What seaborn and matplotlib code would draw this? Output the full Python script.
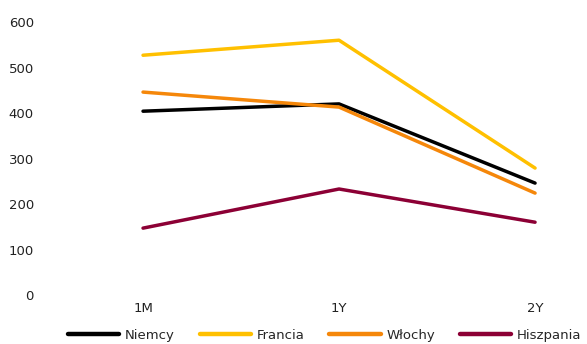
import pandas as pd
import seaborn as sns
import matplotlib.pyplot as plt

# data
okresy = ["1M", "1Y", "2Y"]
niemcy = [404, 420, 246]
francja = [527, 560, 279]
wlochy = [446, 413, 224]
hiszpania = [147, 233, 160]

kraje = ["Niemcy", "Francja", "Włochy", "Hiszpania"]
etykiety = ["Niemcy", "Francia", "Włochy", "Hiszpania"]
kolory = ["#000000", "#FFC000", "#F5870A", "#8C0035"]

df = pd.DataFrame({"okres": okresy * 4,
                   "kraj": sum([[k] * 3 for k in kraje], []),
                   "wartosc": niemcy + francja + wlochy + hiszpania})
df["x"] = df["okres"].map({o: i for i, o in enumerate(okresy)})

sns.set_style("white")
plt.rcParams["font.family"] = ["DejaVu Sans"]

fig = plt.figure(figsize=(5.87, 3.44), dpi=100)
ax = fig.add_axes([0.0767, 0.1424, 0.9233, 0.7936])

sns.lineplot(data=df, x="x", y="wartosc", hue="kraj", hue_order=kraje,
             palette=kolory, linewidth=2.5, ax=ax, legend=False)

ax.set_xlim(-0.5, 2.265)
ax.set_ylim(0, 600)
ax.set_xticks(range(len(okresy)))
ax.set_xticklabels(okresy)
ax.set_yticks(range(0, 601, 100))
ax.tick_params(axis="both", labelsize=9.5, colors="#222222", length=0)
ax.tick_params(axis="y", pad=8)
ax.tick_params(axis="x", pad=5)
ax.set_xlabel("")
ax.set_ylabel("")
sns.despine(ax=ax, left=True, bottom=True)

uchwyty = [plt.Line2D([], [], color=c, linewidth=3.2) for c in kolory]
fig.legend(uchwyty, etykiety, loc="center", bbox_to_anchor=(0.553, 0.025),
           ncol=4, frameon=False, fontsize=9.5, handlelength=3.9,
           handletextpad=0.4, columnspacing=1.9)

fig.savefig("out.png", dpi=100)
